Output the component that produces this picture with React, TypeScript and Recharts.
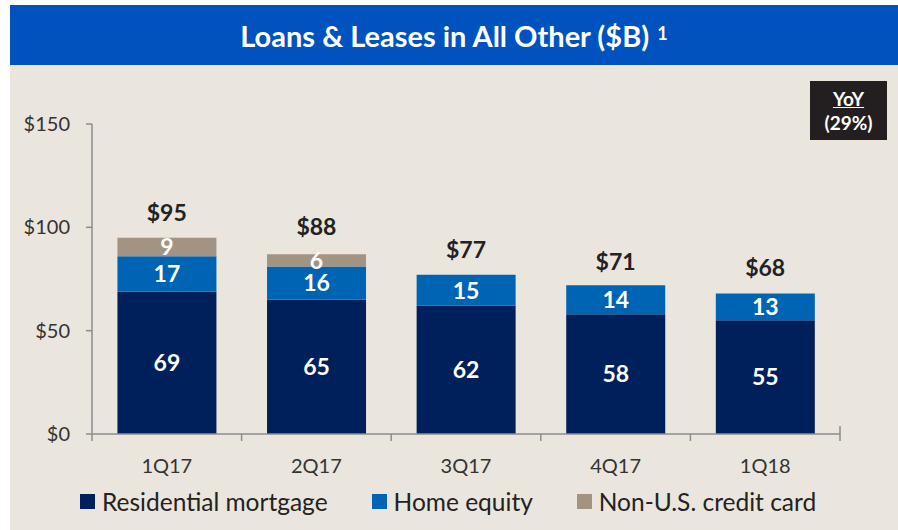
import React, { FC } from 'react';
import { ComposedChart, Bar, Line, XAxis, YAxis, LabelList } from 'recharts';

const quarters = ['1Q17', '2Q17', '3Q17', '4Q17', '1Q18'];
const residential = [69, 65, 62, 58, 55];
const homeEquity = [17, 16, 15, 14, 13];
const nonUsCard = [9, 6, 0, 0, 0];
const totals = [95, 88, 77, 71, 68];
const yTicks = [0, 50, 100, 150];

const data = quarters.map((q, i) => ({
    quarter: q,
    residential: residential[i],
    homeEquity: homeEquity[i],
    nonUsCard: nonUsCard[i] || null,
    total: totals[i],
}));

const NAVY = '#00205B';
const BLUE = '#0064B4';
const TAN = '#A39383';
const AXIS = '#8C8C8C';
const FONT = 'Lato, "Open Sans", sans-serif';

const W = 898;
const H = 530;
const M = { top: 124, right: 58, left: 0, bottom: 66 };
const Y_W = 92;
const X_H = 30;
const plotBottom = H - M.bottom - X_H;
const band = (W - M.right - Y_W) / quarters.length;

const XTick: FC<any> = ({ x, payload, index }) => {
    const left = x - band / 2;
    const right = x + band / 2;
    return (
        <g>
            <line x1={left} y1={plotBottom} x2={left} y2={plotBottom + 7} stroke={AXIS} strokeWidth={1.5} />
            {index === quarters.length - 1 && (
                <line x1={right} y1={plotBottom - 8} x2={right} y2={plotBottom + 7} stroke={AXIS} strokeWidth={1.5} />
            )}
            <text x={x} y={plotBottom + 31} textAnchor="middle" dominantBaseline="central"
                fontSize={20} fill="#333" fontFamily={FONT}>
                {payload.value}
            </text>
        </g>
    );
};

const TotalLabel: FC<any> = ({ x, y, value }) => (
    <text x={x} y={y - 26} textAnchor="middle" dominantBaseline="central"
        fontSize={23} fontWeight={700} fill="#222" fontFamily={FONT}>
        {`$${value}`}
    </text>
);

const segLabel = { fill: '#fff', fontSize: 23, fontWeight: 700, fontFamily: FONT };

const legendItems = [
    { name: 'Residential mortgage', color: NAVY },
    { name: 'Home equity', color: BLUE },
    { name: 'Non-U.S. credit card', color: TAN },
];

const App: FC = () => {
    return (
        <div style={{ position: 'absolute', left: 0, top: 0, width: W, height: H, background: '#fff', fontFamily: FONT }}>
            <div style={{ position: 'absolute', left: 10, top: 5, width: W - 10, height: 60, background: '#0052BF' }} />
            <div style={{ position: 'absolute', left: 10, top: 65, width: W - 10, height: H - 65, background: '#EAE6DD' }} />
            <div style={{
                position: 'absolute', left: 10, top: 5, width: W - 10, height: 60,
                display: 'flex', alignItems: 'center', justifyContent: 'center',
                color: '#fff', fontWeight: 700, fontSize: 29,
            }}>
                Loans &amp; Leases in All Other ($B)<sup style={{ fontSize: 18, marginLeft: 8, position: 'relative', top: -2 }}>1</sup>
            </div>
            <div style={{
                position: 'absolute', left: 810, top: 81, width: 77, height: 59, background: '#231F20',
                color: '#fff', fontWeight: 700, fontSize: 19, lineHeight: '24px',
                display: 'flex', flexDirection: 'column', alignItems: 'center', justifyContent: 'center',
            }}>
                <span style={{ textDecoration: 'underline' }}>YoY</span>
                <span>(29%)</span>
            </div>
            <div style={{ position: 'absolute', left: 0, top: 0 }}>
                <ComposedChart width={W} height={H} data={data} margin={M} barCategoryGap="17%">
                    <YAxis
                        domain={[0, 150]}
                        ticks={yTicks}
                        width={Y_W}
                        stroke={AXIS}
                        strokeWidth={1.5}
                        tickSize={6}
                        tickMargin={16}
                        tick={{ fontSize: 20, fill: '#333', fontFamily: FONT }}
                        tickFormatter={(v) => `$${v}`}
                    />
                    <XAxis
                        dataKey="quarter"
                        height={X_H}
                        stroke={AXIS}
                        strokeWidth={1.5}
                        tickLine={false}
                        tick={<XTick />}
                        interval={0}
                    />
                    <Bar dataKey="residential" stackId="a" fill={NAVY} isAnimationActive={false}>
                        <LabelList dataKey="residential" position="center" style={segLabel} />
                    </Bar>
                    <Bar dataKey="homeEquity" stackId="a" fill={BLUE} isAnimationActive={false}>
                        <LabelList dataKey="homeEquity" position="center" style={segLabel} />
                    </Bar>
                    <Bar dataKey="nonUsCard" stackId="a" fill={TAN} isAnimationActive={false}>
                        <LabelList dataKey="nonUsCard" position="center" style={segLabel} />
                    </Bar>
                    <Line dataKey="total" stroke="none" dot={false} activeDot={false} isAnimationActive={false}>
                        <LabelList dataKey="total" content={<TotalLabel />} />
                    </Line>
                </ComposedChart>
            </div>
            <div style={{
                position: 'absolute', left: 80, top: 487, display: 'flex', alignItems: 'center',
                fontSize: 24.5, color: '#222',
            }}>
                {legendItems.map((it, i) => (
                    <div key={it.name} style={{ display: 'flex', alignItems: 'center', marginRight: i < 2 ? 44 : 0 }}>
                        <span style={{ width: 15, height: 15, background: it.color, display: 'inline-block', marginRight: 7 }} />
                        <span>{it.name}</span>
                    </div>
                ))}
            </div>
        </div>
    );
};

export default App;
